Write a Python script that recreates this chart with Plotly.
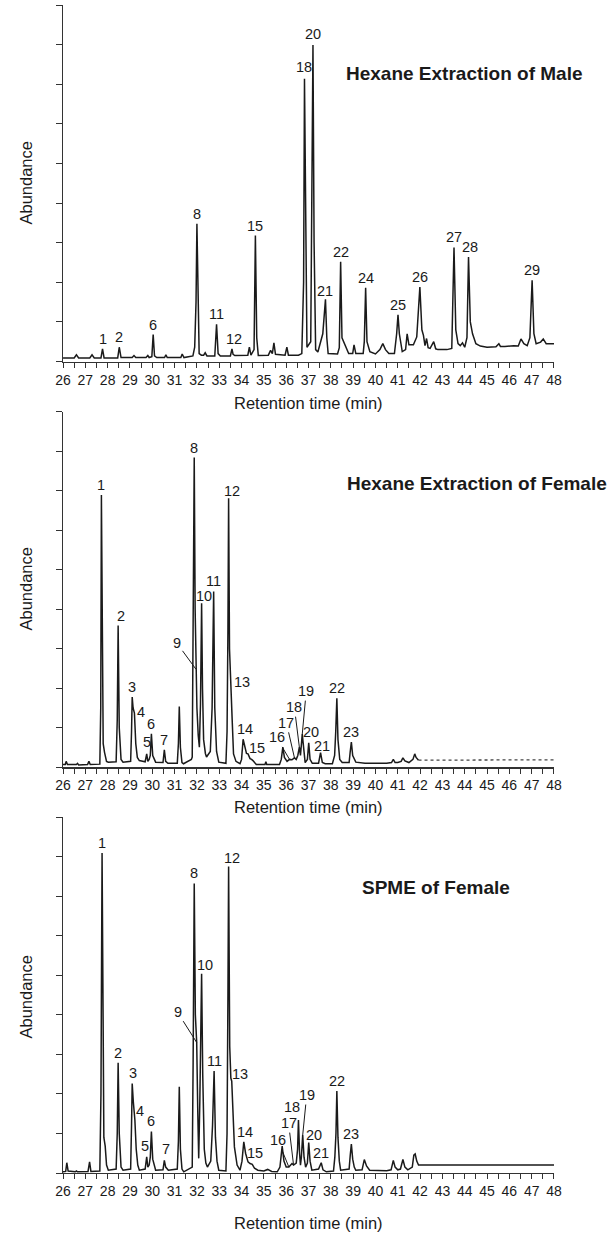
import plotly.graph_objects as go

# ---------------- data ----------------
male_time = [26.0, 26.5, 26.6, 26.7, 27.2, 27.3, 27.4, 27.7, 27.77, 27.84,
             28.45, 28.52, 28.6, 29.1, 29.18, 29.26, 29.72, 29.8, 29.86, 29.98,
             30.04, 30.1, 30.2, 30.55, 30.61, 30.67, 31.28, 31.34, 31.42, 31.82,
             31.9, 31.96, 32.0, 32.05, 32.1, 32.2, 32.3, 32.37, 32.45, 32.8,
             32.88, 32.95, 33.05, 33.5, 33.57, 33.62, 33.7, 34.28, 34.35, 34.42,
             34.56, 34.62, 34.68, 34.75, 35.2, 35.3, 35.38, 35.45, 35.52, 35.95,
             36.03, 36.1, 36.55, 36.7, 36.78, 36.82, 36.88, 36.93, 37.1, 37.2,
             37.25, 37.32, 37.42, 37.55, 37.64, 37.76, 37.82, 37.88, 38.3, 38.38,
             38.44, 38.5, 38.65, 38.8, 38.98, 39.04, 39.12, 39.45, 39.5, 39.56,
             39.62, 39.75, 40.0, 40.2, 40.33, 40.45, 40.6, 40.85, 40.95, 41.01,
             41.07, 41.2, 41.35, 41.42, 41.5, 41.7, 41.85, 41.99, 42.08, 42.15,
             42.22, 42.29, 42.36, 42.45, 42.61, 42.7, 42.8, 43.2, 43.42, 43.52,
             43.6, 43.7, 43.8, 43.9, 44.0, 44.1, 44.17, 44.25, 44.35, 44.5,
             44.7, 45.0, 45.4, 45.53, 45.6, 45.8, 46.2, 46.4, 46.52, 46.65,
             46.8, 46.92, 47.02, 47.1, 47.2, 47.4, 47.52, 47.65, 48.0]
male_abund = [0.09, 0.09, 0.17, 0.09, 0.09, 0.17, 0.09, 0.09, 0.32, 0.09,
              0.09, 0.36, 0.10, 0.10, 0.15, 0.10, 0.10, 0.15, 0.10, 0.12,
              0.68, 0.14, 0.10, 0.10, 0.17, 0.10, 0.10, 0.19, 0.10, 0.14,
              0.36, 1.50, 3.48, 1.20, 0.20, 0.16, 0.16, 0.22, 0.14, 0.14,
              0.94, 0.20, 0.14, 0.14, 0.32, 0.18, 0.15, 0.16, 0.36, 0.16,
              0.30, 3.18, 0.60, 0.15, 0.16, 0.28, 0.20, 0.47, 0.18, 0.16,
              0.36, 0.16, 0.16, 0.20, 2.00, 7.14, 2.50, 0.36, 0.50, 7.99,
              3.00, 0.30, 0.24, 0.50, 0.70, 1.57, 0.60, 0.20, 0.19, 0.35,
              2.52, 0.60, 0.38, 0.20, 0.20, 0.42, 0.20, 0.20, 0.50, 1.86,
              0.50, 0.25, 0.19, 0.30, 0.45, 0.30, 0.20, 0.20, 0.70, 1.18,
              0.70, 0.25, 0.30, 0.70, 0.42, 0.42, 0.62, 1.88, 0.80, 0.66,
              0.40, 0.58, 0.35, 0.33, 0.50, 0.32, 0.30, 0.30, 0.33, 2.88,
              0.80, 0.45, 0.40, 0.47, 0.36, 0.60, 2.64, 1.00, 0.70, 0.45,
              0.39, 0.36, 0.37, 0.45, 0.38, 0.38, 0.40, 0.39, 0.57, 0.45,
              0.40, 0.60, 2.05, 0.70, 0.45, 0.49, 0.57, 0.45, 0.45]

hf_time = [26.0, 26.1, 26.14, 26.2, 26.6, 26.65, 26.7, 27.1, 27.16, 27.22,
           27.65, 27.69, 27.72, 27.76, 27.8, 27.86, 27.95, 28.03, 28.38, 28.43,
           28.47, 28.52, 28.6, 28.69, 29.03, 29.07, 29.1, 29.14, 29.2, 29.26,
           29.33, 29.42, 29.68, 29.75, 29.8, 29.86, 29.91, 29.96, 30.02, 30.15,
           30.48, 30.54, 30.6, 30.7, 31.12, 31.17, 31.21, 31.26, 31.33, 31.4,
           31.75, 31.79, 31.83, 31.88, 31.92, 31.96, 32.0, 32.06, 32.11, 32.16,
           32.21, 32.25, 32.3, 32.38, 32.43, 32.6, 32.68, 32.75, 32.8, 32.88,
           32.98, 33.3, 33.35, 33.39, 33.42, 33.46, 33.5, 33.53, 33.58, 33.64,
           33.75, 33.93, 34.0, 34.07, 34.15, 34.22, 34.29, 34.38, 34.45, 34.51,
           34.66, 35.05, 35.09, 35.13, 35.7, 35.78, 35.85, 35.92, 36.04, 36.15,
           36.26, 36.37, 36.45, 36.52, 36.59, 36.64, 36.72, 36.78, 36.85, 36.95,
           37.01, 37.07, 37.17, 37.45, 37.54, 37.62, 37.75, 38.07, 38.17, 38.22,
           38.27, 38.32, 38.4, 38.51, 38.82, 38.87, 38.92, 38.98, 39.12, 39.53,
           40.0, 40.5, 40.72, 40.8, 40.88, 41.0, 41.15, 41.23, 41.32, 41.5,
           41.68, 41.76, 41.82, 41.93, 42.2, 43.0, 44.0, 45.0, 46.0, 47.0,
           48.0]
hf_abund = [0.07, 0.07, 0.15, 0.07, 0.07, 0.10, 0.06, 0.07, 0.15, 0.07,
            0.08, 1.50, 6.89, 2.50, 0.60, 0.38, 0.15, 0.13, 0.14, 1.20,
            3.59, 1.00, 0.20, 0.13, 0.15, 0.90, 1.78, 1.50, 1.37, 0.60,
            0.25, 0.17, 0.14, 0.34, 0.15, 0.20, 0.30, 0.85, 0.30, 0.13,
            0.12, 0.44, 0.15, 0.10, 0.10, 0.60, 1.54, 0.50, 0.12, 0.09,
            0.20, 0.26, 3.00, 7.84, 4.00, 2.48, 1.50, 0.80, 0.51, 1.60,
            4.15, 2.00, 0.70, 0.35, 0.26, 0.40, 1.50, 4.45, 1.50, 0.40,
            0.13, 0.10, 0.90, 3.50, 6.81, 3.00, 2.20, 2.10, 1.20, 0.34,
            0.15, 0.09, 0.20, 0.71, 0.50, 0.35, 0.34, 0.22, 0.20, 0.17,
            0.07, 0.07, 0.14, 0.07, 0.07, 0.20, 0.51, 0.25, 0.15, 0.20,
            0.19, 0.24, 0.20, 0.30, 0.51, 0.30, 0.84, 0.40, 0.12, 0.20,
            0.62, 0.20, 0.10, 0.10, 0.37, 0.12, 0.09, 0.09, 0.30, 0.90,
            1.75, 0.70, 0.20, 0.12, 0.12, 0.40, 0.64, 0.30, 0.13, 0.10,
            0.10, 0.10, 0.12, 0.20, 0.12, 0.12, 0.15, 0.24, 0.16, 0.12,
            0.20, 0.34, 0.25, 0.18, 0.18, 0.19, 0.19, 0.19, 0.19, 0.19,
            0.19]

spme_time = [26.0, 26.12, 26.17, 26.23, 26.55, 26.6, 26.65, 27.12, 27.19, 27.25,
             27.65, 27.7, 27.75, 27.79, 27.83, 27.89, 27.95, 28.03, 28.38, 28.43,
             28.47, 28.52, 28.6, 28.69, 29.03, 29.07, 29.1, 29.15, 29.22, 29.28,
             29.35, 29.42, 29.68, 29.75, 29.8, 29.86, 29.91, 29.96, 30.02, 30.15,
             30.48, 30.54, 30.6, 30.72, 31.12, 31.17, 31.21, 31.26, 31.33, 31.41,
             31.75, 31.79, 31.83, 31.88, 31.93, 31.99, 32.04, 32.08, 32.13, 32.21,
             32.26, 32.33, 32.4, 32.47, 32.62, 32.7, 32.77, 32.83, 32.9, 32.98,
             33.3, 33.35, 33.39, 33.42, 33.47, 33.52, 33.56, 33.62, 33.68, 33.8,
             33.93, 34.02, 34.1, 34.18, 34.29, 34.38, 34.48, 34.58, 34.73, 35.0,
             35.17, 35.35, 35.6, 35.72, 35.82, 35.9, 36.0, 36.12, 36.2, 36.26,
             36.33, 36.45, 36.51, 36.55, 36.6, 36.64, 36.68, 36.74, 36.8, 36.87,
             36.95, 37.01, 37.07, 37.15, 37.45, 37.57, 37.65, 37.8, 38.12, 38.18,
             38.23, 38.27, 38.32, 38.38, 38.44, 38.82, 38.87, 38.92, 38.98, 39.05,
             39.12, 39.4, 39.5, 39.6, 39.74, 40.5, 40.7, 40.8, 40.88, 41.0,
             41.12, 41.23, 41.32, 41.45, 41.65, 41.72, 41.78, 41.85, 41.93, 42.5,
             43.0, 44.0, 45.0, 46.0, 47.0, 48.0]
spme_abund = [0.03, 0.04, 0.26, 0.05, 0.03, 0.05, 0.03, 0.04, 0.28, 0.04,
              0.05, 2.00, 8.09, 3.50, 0.90, 0.68, 0.20, 0.07, 0.10, 1.00,
              2.79, 1.00, 0.15, 0.07, 0.10, 1.20, 2.26, 1.80, 1.34, 0.60,
              0.20, 0.07, 0.10, 0.41, 0.15, 0.20, 0.40, 1.05, 0.35, 0.07,
              0.08, 0.32, 0.15, 0.07, 0.10, 0.80, 2.18, 0.60, 0.10, 0.03,
              0.12, 0.15, 2.80, 7.32, 4.00, 3.30, 1.50, 0.37, 1.80, 5.04,
              2.50, 0.60, 0.25, 0.15, 0.30, 1.20, 2.58, 0.90, 0.30, 0.07,
              0.05, 1.00, 4.50, 7.75, 3.20, 2.40, 2.32, 1.20, 0.66, 0.20,
              0.07, 0.30, 0.79, 0.50, 0.28, 0.24, 0.22, 0.12, 0.07, 0.05,
              0.09, 0.04, 0.03, 0.15, 0.68, 0.30, 0.15, 0.15, 0.20, 0.24,
              0.20, 0.25, 0.60, 1.34, 0.50, 0.20, 0.40, 0.96, 0.40, 0.15,
              0.25, 0.77, 0.30, 0.07, 0.10, 0.26, 0.08, 0.03, 0.05, 0.40,
              1.00, 2.07, 0.90, 0.30, 0.07, 0.10, 0.45, 0.73, 0.35, 0.15,
              0.07, 0.08, 0.34, 0.18, 0.07, 0.06, 0.08, 0.32, 0.15, 0.08,
              0.10, 0.34, 0.15, 0.08, 0.15, 0.45, 0.48, 0.30, 0.20, 0.20,
              0.21, 0.20, 0.20, 0.20, 0.20, 0.20]

x_tick_values = [26, 27, 28, 29, 30, 31, 32, 33, 34, 35, 36, 37,
                 38, 39, 40, 41, 42, 43, 44, 45, 46, 47, 48]
x_tick_labels = ["26", "27", "28", "29", "30", "31", "32", "33", "34", "35", "36", "37",
                 "38", "39", "40", "41", "42", "43", "44", "45", "46", "47", "48"]

male_peak_ids = ["1", "2", "6", "8", "11", "12", "15", "18", "20", "21",
                 "22", "24", "25", "26", "27", "28", "29"]
male_peak_times = [27.77, 28.52, 30.04, 32.0, 32.88, 33.57, 34.62, 36.82, 37.2, 37.76,
                   38.44, 39.56, 41.01, 41.99, 43.52, 44.17, 47.02]

hf_peak_ids = ["1", "2", "3", "4", "5", "6", "7", "8", "9", "10", "11", "12",
               "13", "14", "15", "16", "17", "18", "19", "20", "21", "22", "23"]
hf_peak_times = [27.72, 28.47, 29.1, 29.2, 29.75, 29.96, 30.54, 31.88, 31.96, 32.21,
                 32.75, 33.42, 33.53, 34.07, 34.45, 36.15, 36.37, 36.59, 36.72, 37.01,
                 37.54, 38.27, 38.92]

spme_peak_ids = ["1", "2", "3", "4", "5", "6", "7", "8", "9", "10", "11", "12",
                 "13", "14", "15", "16", "17", "18", "19", "20", "21", "22", "23"]
spme_peak_times = [27.75, 28.47, 29.1, 29.22, 29.75, 29.96, 30.54, 31.88, 31.99, 32.21,
                   32.77, 33.42, 33.56, 34.1, 34.48, 36.12, 36.33, 36.55, 36.74, 37.01,
                   37.57, 38.27, 38.92]

panel_titles = ["Hexane Extraction of Male", "Hexane Extraction of Female", "SPME of Female"]
x_title = "Retention time (min)"
y_title = "Abundance"

# ---------------- styling / layout ----------------
W, H = 610, 1234
X0, X1 = 56.5, 560.7                      # x-axis extent in pixels
PANELS = [(5, 361.5), (411.7, 767.3), (817, 1173)]   # (top, bottom) pixels
TITLE_POS = [(345, 73), (346, 483), (361, 887)]
XTITLE_Y = [403, 807, 1223]
YTITLE_Y = [183, 589, 997]
FONT = "Arial, Liberation Sans, Helvetica, sans-serif"
INK = "#1a1a1a"
AX = "#333333"

# per-label pixel offsets: (xshift, yshift) of label centre from the peak apex
male_offsets = {"12": (2, 10), "18": (0, 12), "20": (0, 11), "21": (0, 8),
                "28": (1, 10)}
hf_offsets = {"2": (3, 9), "4": (7, 1), "5": (0, 12), "10": (2, 7), "12": (3, 7),
              "13": (11, 2), "14": (2, 10), "15": (5, 11), "20": (2, 11),
              "21": (1, 7)}
spme_offsets = {"3": (1, 11), "4": (5, 9), "5": (-2, 11), "7": (2, 11), "10": (3, 9),
                "12": (3, 8), "13": (8, 7), "14": (1, 10), "15": (3, 11),
                "18": (-6, 13), "20": (5, 8), "21": (0, 10)}
# labels with leader lines: (ax, ay) pixel offset of label from the pointed spot
hf_leaders = {"9": (-19, -26), "16": (-13, -22), "17": (-8, -35), "18": (-5, -40),
              "19": (4, -43)}
spme_leaders = {"9": (-19, -30), "16": (-11, -27), "17": (-5, -42), "19": (4, -40)}


def pf_x(px):
    return px / W


def pf_y(py):
    return 1 - py / H


def abund_at(times, abunds, t):
    i = min(range(len(times)), key=lambda k: abs(times[k] - t))
    return abunds[i]


fig = go.Figure()

series = [(male_time, male_abund), (hf_time, hf_abund), (spme_time, spme_abund)]
labels = [(male_peak_ids, male_peak_times, male_offsets, {}),
          (hf_peak_ids, hf_peak_times, hf_offsets, hf_leaders),
          (spme_peak_ids, spme_peak_times, spme_offsets, spme_leaders)]

annotations = []
for k in range(3):
    n = "" if k == 0 else str(k + 1)
    xa, ya = "x" + n, "y" + n
    t_vals, a_vals = series[k]
    if k == 1:
        # solid part, then the thin broken tail after 42 min
        cut = [i for i, t in enumerate(t_vals) if t <= 41.93]
        tail = [i for i, t in enumerate(t_vals) if t >= 41.93]
        fig.add_trace(go.Scatter(x=[t_vals[i] for i in cut], y=[a_vals[i] for i in cut],
                                 mode="lines", line=dict(color=INK, width=1.5),
                                 xaxis=xa, yaxis=ya, hoverinfo="skip"))
        fig.add_trace(go.Scatter(x=[t_vals[i] for i in tail], y=[a_vals[i] for i in tail],
                                 mode="lines", line=dict(color="#444", width=1.3, dash="dot"),
                                 xaxis=xa, yaxis=ya, hoverinfo="skip"))
    else:
        fig.add_trace(go.Scatter(x=t_vals, y=a_vals, mode="lines",
                                 line=dict(color=INK, width=1.5),
                                 xaxis=xa, yaxis=ya, hoverinfo="skip"))

    ids, times, offs, leads = labels[k]
    for pid, t in zip(ids, times):
        a = abund_at(t_vals, a_vals, t)
        if pid in leads:
            ax_, ay_ = leads[pid]
            annotations.append(dict(x=t, y=a, xref=xa, yref=ya, text=pid,
                                    showarrow=True, arrowhead=0, arrowwidth=1,
                                    arrowcolor=INK, ax=ax_, ay=ay_, standoff=0,
                                    font=dict(family=FONT, size=14.5, color=INK)))
        else:
            xs, ys = offs.get(pid, (0, 10))
            annotations.append(dict(x=t, y=a, xref=xa, yref=ya, text=pid,
                                    showarrow=False, xanchor="center", yanchor="middle",
                                    xshift=xs, yshift=ys,
                                    font=dict(family=FONT, size=14.5, color=INK)))

    top, bot = PANELS[k]
    fig.layout["xaxis" + n] = dict(
        domain=[pf_x(X0), pf_x(X1)], range=[26, 48], anchor=ya,
        tickmode="array", tickvals=x_tick_values, ticktext=x_tick_labels,
        ticks="outside", ticklen=5, tickwidth=1, tickcolor=AX,
        minor=dict(ticks="outside", ticklen=5, tickwidth=1, tickcolor=AX, dtick=0.5,
                   showgrid=False),
        showline=True, linecolor=AX, linewidth=1.2, showgrid=False, zeroline=False,
        tickfont=dict(family=FONT, size=14, color=INK), fixedrange=True)
    fig.layout["yaxis" + n] = dict(
        domain=[pf_y(bot), pf_y(top)], range=[0, 9], anchor=xa,
        tick0=0, dtick=1, ticks="outside", ticklen=6, tickwidth=1, tickcolor=AX,
        showticklabels=False, showline=True, linecolor=AX, linewidth=1.2,
        showgrid=False, zeroline=False, fixedrange=True)

    tx, ty = TITLE_POS[k]
    annotations.append(dict(x=pf_x(tx), y=pf_y(ty), xref="paper", yref="paper",
                            text="<b>" + panel_titles[k] + "</b>", showarrow=False,
                            xanchor="left", yanchor="middle",
                            font=dict(family=FONT, size=19, color=INK)))
    annotations.append(dict(x=pf_x((X0 + X1) / 2), y=pf_y(XTITLE_Y[k]), xref="paper",
                            yref="paper", text=x_title, showarrow=False,
                            xanchor="center", yanchor="middle",
                            font=dict(family=FONT, size=16.5, color=INK)))
    annotations.append(dict(x=pf_x(18), y=pf_y(YTITLE_Y[k]), xref="paper", yref="paper",
                            text=y_title, showarrow=False, textangle=-90,
                            xanchor="center", yanchor="middle",
                            font=dict(family=FONT, size=16.5, color=INK)))

fig.update_layout(width=W, height=H, margin=dict(l=0, r=0, t=0, b=0),
                  paper_bgcolor="white", plot_bgcolor="white", showlegend=False,
                  annotations=annotations)

# remove the page's default body margin so the figure fills the window exactly
fig.write_html("out.html",
               config={"displayModeBar": False, "staticPlot": True},
               post_script="document.body.style.margin='0';"
                           "document.body.style.overflow='hidden';")
